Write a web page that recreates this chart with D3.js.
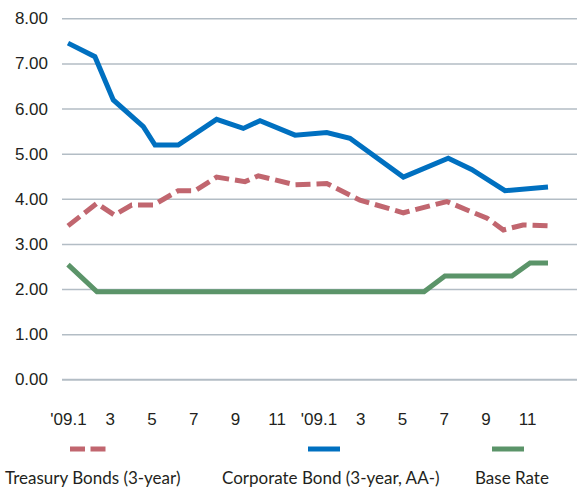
<!DOCTYPE html>
<html>
<head>
<meta charset="utf-8">
<script src="https://cdn.jsdelivr.net/npm/d3@7"></script>
<style>
  html, body { margin: 0; padding: 0; background: #fff; }
  svg { display: block; font-family: Lato, "Open Sans", sans-serif; }
</style>
</head>
<body>
<svg id="chart" width="577" height="488"></svg>
<script>
// ---- data (x = months since Jan 2009, fractional where the line bends between months) ----
const yTicks = [0, 1, 2, 3, 4, 5, 6, 7, 8];
const xTickMonths = [0, 2, 4, 6, 8, 10, 12, 14, 16, 18, 20, 22];
const xTickLabels = ["'09.1", "3", "5", "7", "9", "11", "'09.1", "3", "5", "7", "9", "11"];

const treasuryMonths = [0, 1.38, 2.22, 3.05, 4.09, 5.28, 6.09, 7.12, 8.48, 9.12, 10.88, 12.4, 13.99, 16.07, 18.15, 19.34, 20.08, 20.86, 21.8, 23];
const treasuryValues = [3.40, 3.90, 3.64, 3.86, 3.86, 4.18, 4.18, 4.48, 4.38, 4.51, 4.31, 4.34, 3.97, 3.69, 3.94, 3.71, 3.57, 3.31, 3.42, 3.40];

const corporateMonths = [0, 1.29, 2.17, 3.61, 4.17, 5.28, 7.12, 8.4, 9.2, 10.88, 12.4, 13.51, 16.07, 18.22, 19.34, 20.94, 23];
const corporateValues = [7.45, 7.15, 6.19, 5.60, 5.19, 5.19, 5.76, 5.56, 5.73, 5.41, 5.47, 5.34, 4.48, 4.90, 4.65, 4.18, 4.26];

const baseMonths = [0, 1.39, 17.06, 18.06, 21.27, 22.14, 23];
const baseValues = [2.54, 1.94, 1.94, 2.29, 2.29, 2.58, 2.58];

const seriesNames = ["Treasury Bonds (3-year)", "Corporate Bond (3-year, AA-)", "Base Rate"];
const seriesColors = ["#c1666f", "#0070c0", "#5b9469"];

// ---- chart ----
const svg = d3.select("#chart");
const W = 577;
const x = d3.scaleLinear().domain([0, 23]).range([68, 548]);
const y = d3.scaleLinear().domain([0, 8]).range([379.3, 18.3]);
const gridLeft = 62;

// y axis + gridlines
const yAxis = d3.axisLeft(y)
  .tickValues(yTicks)
  .tickFormat(d3.format(".2f"))
  .tickSize(-(W - gridLeft))
  .tickPadding(14);
const gy = svg.append("g").attr("transform", `translate(${gridLeft},0)`).call(yAxis);
gy.select(".domain").remove();
gy.selectAll(".tick line").attr("stroke", "#b3bdc5").attr("stroke-width", d => d === 0 ? 2 : 1.5);
gy.selectAll(".tick text").attr("fill", "#231f20").attr("font-size", 17);

// x axis labels
const xAxis = d3.axisBottom(x)
  .tickValues(xTickMonths)
  .tickFormat((d, i) => xTickLabels[i])
  .tickSize(0)
  .tickPadding(34);
const gx = svg.append("g").attr("transform", `translate(0,${y(0)})`).call(xAxis);
gx.select(".domain").remove();
gx.selectAll(".tick text").attr("fill", "#231f20").attr("font-size", 17);

// lines
const series = [
  { months: treasuryMonths, values: treasuryValues, dash: "15,6" },
  { months: corporateMonths, values: corporateValues, dash: null },
  { months: baseMonths, values: baseValues, dash: null }
];
const line = d3.line().x(d => x(d[0])).y(d => y(d[1]));

// draw base first, then treasury, then corporate
[2, 0, 1].forEach(i => {
  const s = series[i];
  const pts = s.months.map((m, k) => [m, s.values[k]]);
  svg.append("path")
    .datum(pts)
    .attr("d", line)
    .attr("fill", "none")
    .attr("stroke", seriesColors[i])
    .attr("stroke-width", 5)
    .attr("stroke-linejoin", "miter")
    .attr("stroke-dasharray", s.dash);
});

// legend
const legendLineX = [[70, 106], [308, 340], [492, 524]];
const legendTextX = [5, 222, 475];
const lg = svg.append("g");
seriesNames.forEach((name, i) => {
  lg.append("line")
    .attr("x1", legendLineX[i][0]).attr("x2", legendLineX[i][1])
    .attr("y1", 449).attr("y2", 449)
    .attr("stroke", seriesColors[i])
    .attr("stroke-width", 5)
    .attr("stroke-dasharray", i === 0 ? "15,5.5" : null);
  lg.append("text")
    .attr("x", legendTextX[i]).attr("y", 484)
    .attr("fill", "#231f20")
    .attr("font-size", 17)
    .text(name);
});
</script>
</body>
</html>
